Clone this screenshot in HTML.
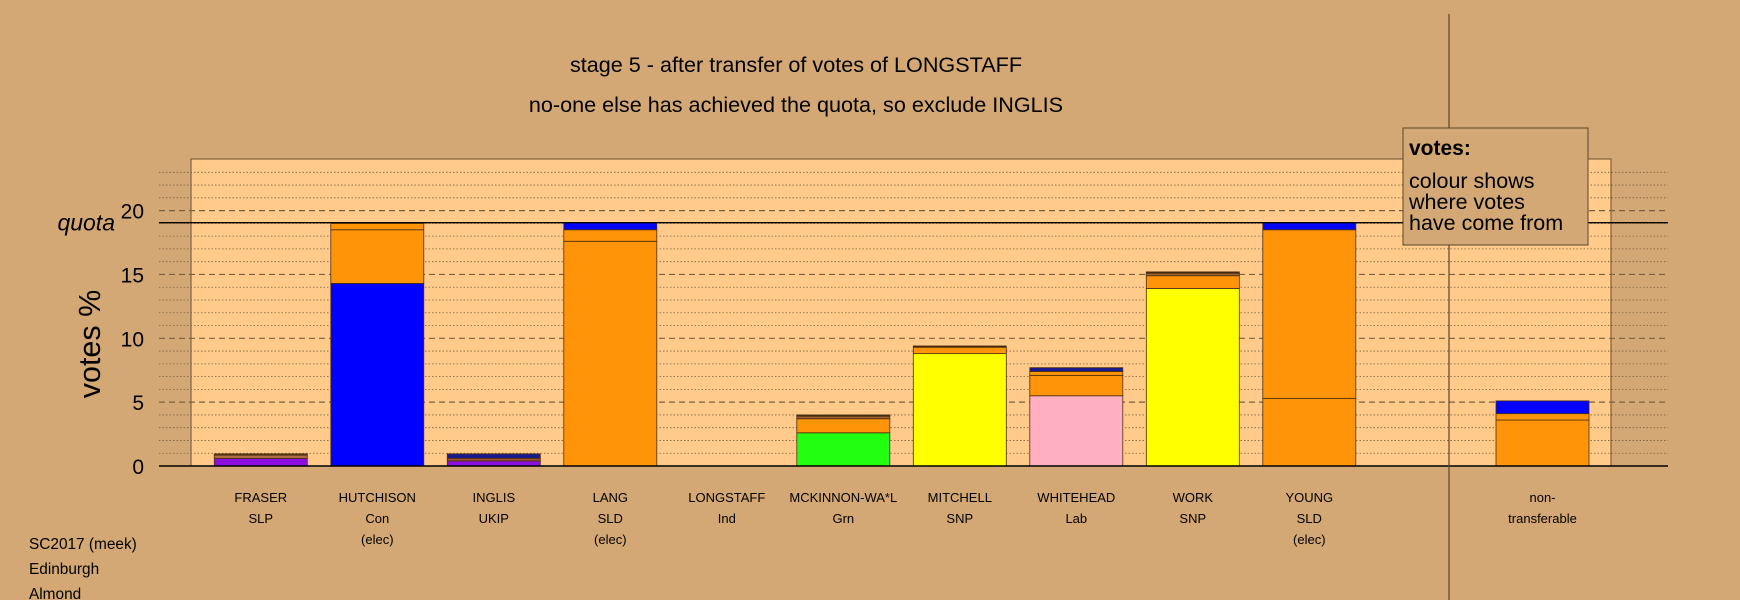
<!DOCTYPE html>
<html><head><meta charset="utf-8"><style>
body{margin:0;background:#D4A874;}
svg{display:block;font-family:"Liberation Sans",sans-serif;}
</style></head><body>
<svg id="chart" width="1740" height="600" viewBox="0 0 1740 600">
<rect x="0" y="0" width="1740" height="600" fill="#D4A874"/>
<text x="796" y="72" font-size="21.6" text-anchor="middle">stage 5 - after transfer of votes of LONGSTAFF</text>
<text x="796" y="112" font-size="21.6" text-anchor="middle">no-one else has achieved the quota, so exclude INGLIS</text>
<rect x="191" y="159" width="1420" height="307" fill="#FFCA8A" stroke="#6b5030" stroke-width="1"/>
<g id="grid"></g>
<g id="bars"></g>
<g id="axis"></g>
<line x1="1449" y1="14" x2="1449" y2="600" stroke="#5a4630" stroke-width="1.2"/>
<g>
<rect x="1403" y="128" width="185" height="117" fill="#D4A874" stroke="#5a4630" stroke-width="1"/>
<text x="1409" y="155" font-size="21" font-weight="bold">votes:</text>
<text x="1409" y="188" font-size="21.5">colour shows</text>
<text x="1409" y="209" font-size="21.5">where votes</text>
<text x="1409" y="230" font-size="21.5">have come from</text>
</g>
<text transform="translate(100,344) rotate(-90)" font-size="30.5" text-anchor="middle">votes %</text>
<text x="29" y="549" font-size="15.4">SC2017 (meek)</text>
<text x="29" y="574" font-size="15.4">Edinburgh</text>
<text x="29" y="599" font-size="15.4">Almond</text>
</svg>
<script>
const categories=["FRASER","HUTCHISON","INGLIS","LANG","LONGSTAFF","MCKINNON-WA*L","MITCHELL","WHITEHEAD","WORK","YOUNG","non-"];
const parties=["SLP","Con","UKIP","SLD","Ind","Grn","SNP","Lab","SNP","SLD","transferable"];
const status=["","(elec)","","(elec)","","","","","","(elec)",""];
const segValues=[[0.6,0.25,0.1],[14.3,4.2,0.5],[0.4,0.2,0.35],[17.6,0.9,0.55],[],[2.6,1.1,0.2,0.1],[8.8,0.5,0.1],[5.5,1.6,0.3,0.3],[13.9,1.0,0.2,0.1],[5.3,13.2,0.55],[3.6,0.5,1.0]];
const segColors=[["#8B10E0","#B07040","#6a3a20"],["#0000FF","#FF9408","#FF9408"],["#8B10E0","#A05030","#1a1a90"],["#FF9408","#FF9408","#0000FF"],[],["#22FF11","#FF9408","#A06030","#3a2a10"],["#FFFF00","#FF9408","#3a2a10"],["#FFB0C0","#FF9408","#FF9408","#1a1a90"],["#FFFF00","#FF9408","#A06030","#3a2a10"],["#FF9408","#FF9408","#0000FF"],["#FF9408","#FF9408","#0000FF"]];
const yTicks=[0,5,10,15,20];
const quota=19.05;
const NS="http://www.w3.org/2000/svg";
const y0=466,ppu=12.77;
function ys(v){return y0-v*ppu;}
function xs(i){return i<10?260.8+i*116.5:1542.5;}
function mk(tag,attrs,parent){const e=document.createElementNS(NS,tag);for(const k in attrs)e.setAttribute(k,attrs[k]);parent.appendChild(e);return e;}
const grid=document.getElementById('grid'),bars=document.getElementById('bars'),axis=document.getElementById('axis');
for(let v=1;v<=23;v++){
  const major=v%5===0;
  const l=mk('line',{x1:159,x2:1668,y1:ys(v),y2:ys(v),stroke:'#7a6040','stroke-width':major?1.2:0.8,'stroke-dasharray':major?'6,4':'1.5,2'},grid);
  
  
}
categories.forEach((c,i)=>{
  let cum=0;const w=93,x=xs(i)-w/2;
  segValues[i].forEach((v,j)=>{
    const r=mk('rect',{x:x,y:ys(cum+v),width:w,height:v*ppu,fill:segColors[i][j],stroke:'#4a3010','stroke-width':0.8},bars);
    
    
    cum+=v;
  });
  [c,parties[i],status[i]].forEach((t,k)=>{
    if(!t)return;
    const tx=mk('text',{x:xs(i),y:502+k*21,'font-size':13,'text-anchor':'middle'},axis);
    tx.textContent=t;
    
    
  });
});
const zl=mk('line',{x1:159,x2:1668,y1:y0,y2:y0,stroke:'#000','stroke-width':1.6},axis);


const ql=mk('line',{x1:159,x2:1668,y1:ys(quota),y2:ys(quota),stroke:'#000','stroke-width':1.4},axis);


const qt=mk('text',{x:115,y:ys(quota)+8,'font-size':23,'font-style':'italic','text-anchor':'end'},axis);
qt.textContent='quota';


yTicks.forEach(v=>{
  const t=mk('text',{x:144,y:ys(v)+8,'font-size':21,'text-anchor':'end'},axis);
  t.textContent=v;
  
  
});
</script>
</body></html>
